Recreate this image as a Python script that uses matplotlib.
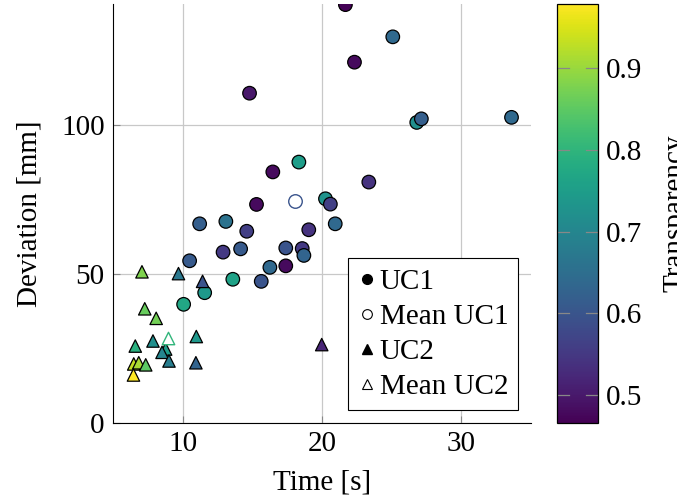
import matplotlib.pyplot as plt
from matplotlib.lines import Line2D
from matplotlib.transforms import Bbox

plt.rcParams['font.family'] = ['Liberation Serif', 'DejaVu Serif']

# UC1: time [s], deviation [mm], transparency
uc1_time = [14.8, 18.34, 16.47, 15.3, 20.25, 20.6, 21.68, 25.08, 22.33, 26.8, 27.13,
            33.6, 23.36, 11.22, 13.1, 14.6, 19.05, 20.95, 10.5, 12.9, 14.16, 17.4,
            18.58, 18.7, 16.26, 17.4, 15.64, 13.6, 11.58, 10.07]
uc1_dev = [110.6, 87.5, 84.2, 73.3, 75.2, 73.4, 140.3, 129.5, 121.0, 100.8, 102.0,
           102.5, 80.8, 66.8, 67.6, 64.3, 64.8, 66.8, 54.4, 57.3, 58.4, 58.7,
           58.5, 56.2, 52.2, 52.7, 47.5, 48.2, 43.7, 39.8]
uc1_transp = [0.50, 0.75, 0.48, 0.48, 0.73, 0.56, 0.47, 0.64, 0.48, 0.72, 0.62,
              0.64, 0.54, 0.62, 0.66, 0.56, 0.54, 0.64, 0.61, 0.55, 0.61, 0.60,
              0.55, 0.63, 0.64, 0.48, 0.60, 0.76, 0.74, 0.77]

# UC2
uc2_time = [7.08, 9.7, 11.43, 7.28, 8.1, 10.98, 7.87, 6.6, 8.78, 8.52, 9.02,
            10.95, 19.98, 6.49, 6.85, 7.35, 6.47]
uc2_dev = [50.7, 50.1, 47.5, 38.3, 35.1, 29.0, 27.5, 25.8, 24.8, 23.7, 20.8,
           20.2, 26.3, 19.8, 20.2, 19.5, 16.1]
uc2_transp = [0.88, 0.67, 0.60, 0.86, 0.87, 0.74, 0.72, 0.79, 0.75, 0.70, 0.68,
              0.63, 0.52, 0.93, 0.91, 0.85, 0.978]

# means
mean_uc1 = (18.05, 74.5, 0.60)
mean_uc2 = (8.92, 28.6, 0.80)

vmin, vmax = 0.466, 0.978
cmap = plt.get_cmap('viridis')
norm = plt.Normalize(vmin, vmax)

fig = plt.figure(figsize=(7, 5.04), dpi=100)
ax = fig.add_axes([0.1614, 0.1607, 0.5972, 0.8313])
cax = fig.add_axes([0.7957, 0.1607, 0.0586, 0.8313])

sc = ax.scatter(uc1_time, uc1_dev, c=uc1_transp, cmap=cmap, norm=norm, s=95,
                marker='o', edgecolors='black', linewidths=0.9, zorder=3)
ax.scatter(uc2_time, uc2_dev, c=uc2_transp, cmap=cmap, norm=norm, s=80,
           marker='^', edgecolors='black', linewidths=0.9, zorder=3)
ax.scatter([mean_uc1[0]], [mean_uc1[1]], s=95, marker='o', facecolors='white',
           edgecolors=[cmap(norm(mean_uc1[2]))], linewidths=1.0, zorder=3)
ax.scatter([mean_uc2[0]], [mean_uc2[1]], s=80, marker='^', facecolors='white',
           edgecolors=[cmap(norm(mean_uc2[2]))], linewidths=1.0, zorder=3)

ax.set_xlim(5, 35)
ax.set_ylim(0, 140.5)
ax.set_xticks([10, 20, 30])
ax.set_yticks([0, 50, 100])
ax.grid(True, color='#c8c8c8', linewidth=0.9, zorder=0)
ax.spines['top'].set_visible(False)
ax.spines['right'].set_visible(False)
ax.tick_params(direction='in', length=5, color='#888888', labelsize=21, pad=6)
ax.set_xlabel('Time [s]', fontsize=21, labelpad=9)
ax.set_ylabel('Deviation [mm]', fontsize=21, labelpad=13)

handles = [
    Line2D([], [], marker='o', linestyle='none', markerfacecolor='black', markeredgecolor='black', markersize=7),
    Line2D([], [], marker='o', linestyle='none', markerfacecolor='white', markeredgecolor='black', markersize=7, markeredgewidth=0.8),
    Line2D([], [], marker='^', linestyle='none', markerfacecolor='black', markeredgecolor='black', markersize=7),
    Line2D([], [], marker='^', linestyle='none', markerfacecolor='white', markeredgecolor='black', markersize=7, markeredgewidth=0.8),
]
leg = ax.legend(handles, ['UC1', 'Mean UC1', 'UC2', 'Mean UC2'], fontsize=21,
                loc='lower right', bbox_to_anchor=(0.97, 0.03), frameon=True, fancybox=False,
                edgecolor='black', framealpha=1, handlelength=0.6, handletextpad=0.15,
                borderpad=0.35, labelspacing=0.3, borderaxespad=0)
leg.get_frame().set_linewidth(0.8)

cb = fig.colorbar(sc, cax=cax)
cb.set_ticks([0.5, 0.6, 0.7, 0.8, 0.9])
cb.ax.tick_params(labelsize=21, direction='in', length=0, pad=6)
for t in [0.5, 0.6, 0.7, 0.8, 0.9]:
    cax.plot([0, 0.3], [t, t], color='#888888', lw=0.9, transform=cax.get_yaxis_transform())
    cax.plot([0.7, 1], [t, t], color='#888888', lw=0.9, transform=cax.get_yaxis_transform())
cb.set_label('Transparency', fontsize=21, rotation=90, labelpad=14)
cb.outline.set_linewidth(0.9)

# the colour bar label is cut off at the right, as in the original
lbl = cax.yaxis.label
lbl.set_clip_box(Bbox([[0, 0], [677, 504]]))
lbl.set_clip_on(True)

fig.savefig('out.png', dpi=100)
